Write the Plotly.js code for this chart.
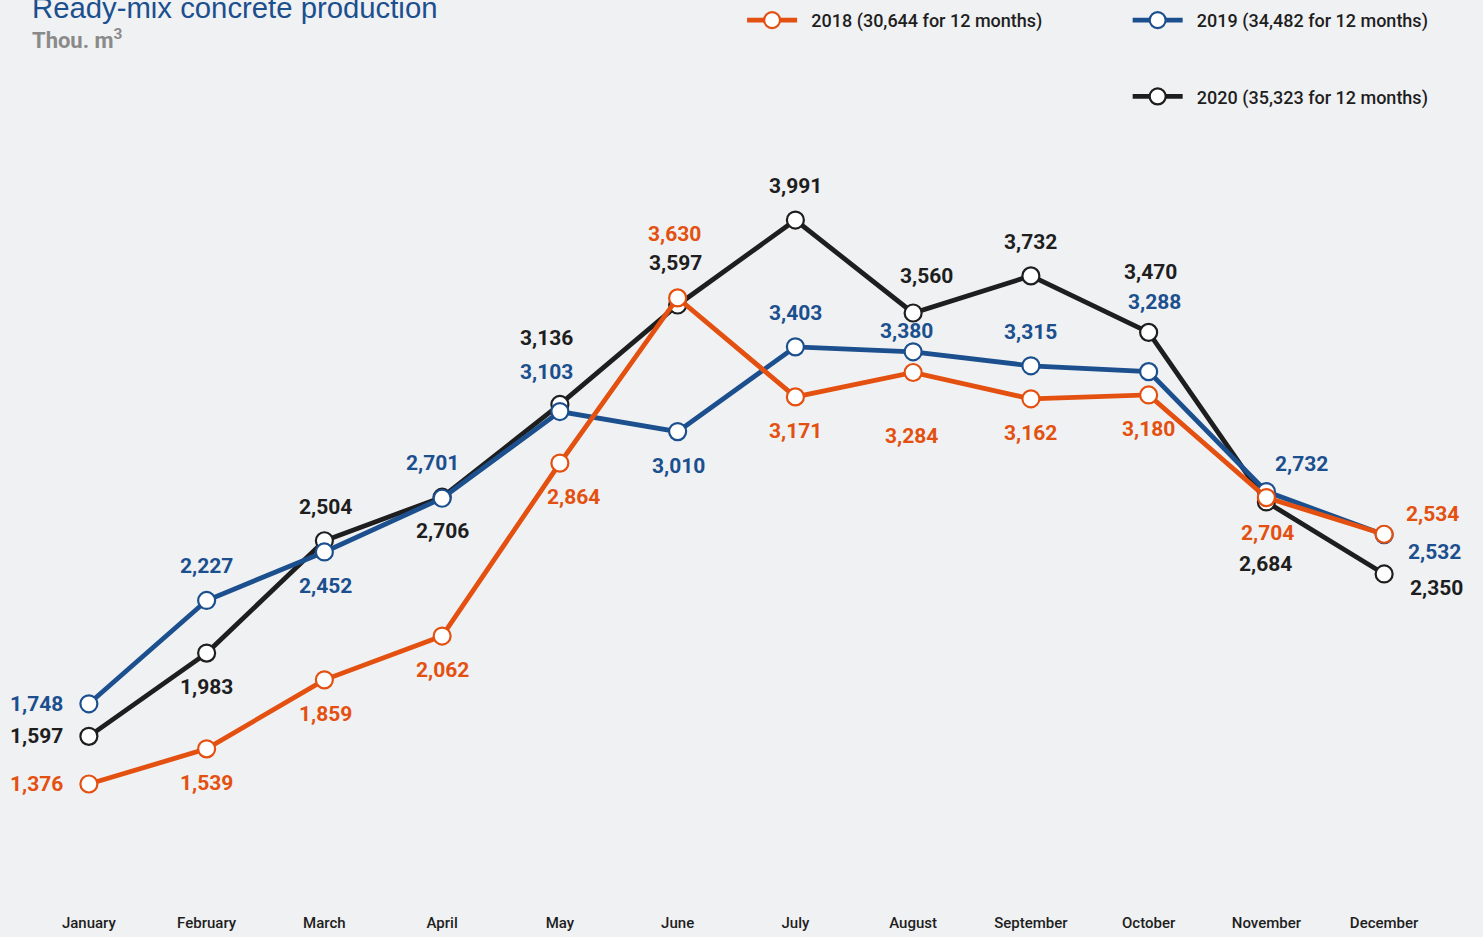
<!DOCTYPE html>
<html>
<head>
<meta charset="utf-8">
<script src="https://cdn.plot.ly/plotly-3.0.1.min.js"></script>
<style>
html,body{margin:0;padding:0;background:#f0f1f3;}
#chart{width:1483px;height:937px;}
</style>
</head>
<body>
<div id="chart"></div>
<script>
// ---- data ----
const months = ["January","February","March","April","May","June","July","August","September","October","November","December"];
const values2018 = [1376,1539,1859,2062,2864,3630,3171,3284,3162,3180,2704,2534];
const values2019 = [1748,2227,2452,2701,3103,3010,3403,3380,3315,3288,2732,2532];
const values2020 = [1597,1983,2504,2706,3136,3597,3991,3560,3732,3470,2684,2350];
const seriesNames = ["2018 (30,644 for 12 months)","2019 (34,482 for 12 months)","2020 (35,323 for 12 months)"];

// ---- label placement (pixel offsets from each point) ----
const off2018 = [[-52,0],[0,34],[1,34],[0,34],[14,34],[-3,-64],[0,34],[-2,63],[0,34],[0,34],[1,35],[48,-20]];
const off2019 = [[-52,0],[0,-34],[1,34],[-10,-35],[-13,-40],[1,34],[0,-34],[-7,-21],[0,-34],[6,-70],[35,-28],[50,17]];
const off2020 = [[-52,0],[0,34],[1,-34],[0,34],[-13,-66],[-2,-42],[0,-34],[13,-37],[0,-34],[2,-60],[-1,62],[52,14]];

const cOrange = "#e3500f", cBlue = "#1b4f8e", cBlack = "#1e1e1e";
const labelFont = "Roboto, 'Liberation Sans', sans-serif";
const idx = months.map((m, i) => i);

function trace(vals, name, color, legend, rank){
  return {
    x: idx, y: vals, name: "\u2002" + name, type: "scatter", mode: "lines+markers",
    line: {color: color, width: 4.8},
    marker: {size: 17, color: "#ffffff", line: {color: color, width: 2.2}},
    legend: legend, legendrank: rank, legendgroup: name, cliponaxis: false, hoverinfo: "x+y"
  };
}
const data = [
  trace(values2020, seriesNames[2], cBlack, "legend2", 2),
  trace(values2019, seriesNames[1], cBlue, "legend2", 1),
  trace(values2018, seriesNames[0], cOrange, "legend", 1)
];

const annotations = [];
function addLabels(vals, offs, color){
  vals.forEach((v,i)=>{
    annotations.push({
      x: idx[i], y: v, xref: "x", yref: "y",
      text: v.toLocaleString("en-US"), showarrow: false,
      xshift: offs[i][0], yshift: -offs[i][1],
      font: {family: labelFont, size: 21, color: color, weight: 700}
    });
  });
}
addLabels(values2018, off2018, cOrange);
addLabels(values2019, off2019, cBlue);
addLabels(values2020, off2020, cBlack);

annotations.push({
  xref: "paper", yref: "paper", x: 0, y: 1, xanchor: "left", yanchor: "middle",
  xshift: 0, yshift: 53, showarrow: false,
  text: "Ready-mix concrete production",
  font: {family: "'Liberation Sans', Arial, sans-serif", size: 29.3, color: "#1b4f8e"}
});
annotations.push({
  xref: "paper", yref: "paper", x: 0, y: 1, xanchor: "left", yanchor: "middle",
  xshift: 0, yshift: 21, showarrow: false,
  text: "Thou. m<sup>3</sup>",
  font: {family: labelFont, size: 22, color: "#8a8a8a", weight: 700}
});

const legendCommon = {
  xref: "container", yref: "container", yanchor: "top", xanchor: "left",
  bgcolor: "rgba(0,0,0,0)", itemwidth: 50, itemsizing: "trace",
  font: {family: labelFont, size: 18, color: "#1e1e1e", weight: 500}
};

const layout = {
  width: 1483, height: 937,
  paper_bgcolor: "#f0f1f3", plot_bgcolor: "#f0f1f3",
  margin: {l: 30, r: 40, t: 60, b: 32, autoexpand: false},
  showlegend: true,
  legend: Object.assign({}, legendCommon, {x: 0.5004, y: 0.998}),
  legend2: Object.assign({}, legendCommon, {x: 0.7604, y: 0.998, tracegroupgap: 50}),
  xaxis: {
    range: [-0.5, 11.5], autorange: false, automargin: false, showgrid: false, zeroline: false, showline: false,
    tickmode: "array", tickvals: idx, ticktext: months, tickangle: 0,
    ticks: "", ticklabelstandoff: 7,
    tickfont: {family: labelFont, size: 15, color: "#1e1e1e", weight: 500}, fixedrange: true
  },
  yaxis: {
    range: [815, 4733], autorange: false, automargin: false, visible: false, showgrid: false, zeroline: false, fixedrange: true
  },
  annotations: annotations
};

Plotly.newPlot("chart", data, layout, {displayModeBar: false, staticPlot: true});
</script>
</body>
</html>
